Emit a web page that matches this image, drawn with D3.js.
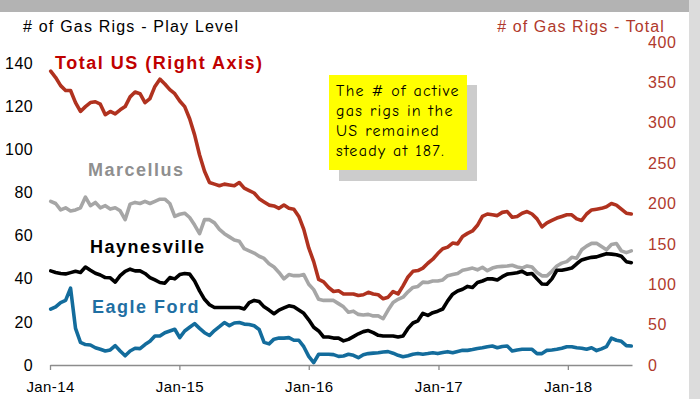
<!DOCTYPE html>
<html>
<head>
<meta charset="utf-8">
<script src="https://cdn.jsdelivr.net/npm/d3@7"></script>
<style>
  html, body { margin: 0; padding: 0; background: #ffffff; }
  svg { display: block; }
</style>
</head>
<body>
<svg id="chart" width="700" height="399"></svg>
<script>
// Weekly rig counts, sampled every two weeks starting with the first Friday of 2014
const firstSample = "2014-01-03";
const sampleStepDays = 14;

const totalUS = [
  364, 356, 346, 340, 340, 325, 314, 320, 325, 326,
  323, 310, 314, 311, 316, 320, 332, 338, 336, 325,
  330, 345, 354, 348, 341, 336, 327, 320, 305, 285,
  260, 240, 226, 224, 222, 224, 223, 222, 226, 219,
  216, 213, 206, 202, 198, 197, 194, 198, 194, 193,
  184, 168, 145, 128, 106, 103, 96, 91, 92, 88,
  88, 88, 86, 87, 90, 88, 87, 82, 84, 91,
  88, 98, 109, 116, 117, 120, 126, 131, 138, 144,
  146, 151, 150, 159, 163, 166, 173, 184, 187, 186,
  185, 189, 190, 183, 184, 188, 190, 187, 181, 171,
  176, 179, 182, 184, 186, 186, 181, 179, 187, 192,
  193, 194, 196, 200, 198, 193, 188, 187
];

const marcellus = [
  76, 75, 72, 73, 71.5, 72, 73, 78, 74, 75.5,
  73, 74, 72.4, 73, 71.6, 67.5, 74.7, 75.5, 75, 76,
  75, 76, 77, 77, 75, 69, 70, 70.5, 68.5, 65,
  61, 67.5, 67.5, 66, 63, 61, 59.5, 58, 57.5, 54,
  53, 52, 50.5, 49.5, 47, 45.5, 43, 40, 42, 41.5,
  41.5, 42, 37.5, 35, 30.5, 30, 30, 30, 28.5, 27,
  24.5, 25, 23.5, 23.2, 23.5, 22.8, 22.8, 21.5, 25.5, 29,
  30.5, 31.5, 34, 36, 36.5, 38.5, 38.3, 39, 39, 39.5,
  41.5, 42, 42.5, 44, 44.5, 45, 44.2, 45.4, 43.8, 45,
  45.6, 45.8, 46, 46.3, 45.5, 45, 46, 45.5, 43, 41.4,
  41.4, 43.5, 46, 47.3, 48, 50, 49.6, 53.5, 55.2, 56.5,
  56.5, 55, 53.5, 56, 56.4, 53, 52.2, 53
];

const haynesville = [
  43.7, 43, 42.5, 42.3, 42.9, 43.5, 43, 45.5, 44, 42.6,
  41.8, 40.6, 40.5, 38.5, 41.5, 43.5, 44.5, 43.7, 43.7, 42.5,
  40.6, 39.5, 38.3, 38, 40.6, 40, 42, 42.5, 42.2, 39,
  34.4, 30.5, 28, 26.7, 26.7, 26.7, 26.7, 26.7, 26.7, 26,
  29, 30, 29.5, 27, 25.5, 23.8, 25.5, 26.5, 27.5, 27,
  25.5, 24, 21, 17.5, 15.8, 13, 13, 12.5, 12.5, 11.2,
  11.9, 13.2, 14.5, 15.5, 16, 15, 13.8, 13.5, 13.5, 13.5,
  13, 13.5, 17, 19.5, 20.5, 24, 23, 24.3, 25, 26,
  29.8, 32.9, 34.4, 35.2, 36.5, 36, 38.3, 39, 40, 40,
  39.5, 41, 42.2, 42.5, 42.8, 43.5, 42.2, 42.5, 40, 37.6,
  37.5, 40, 44, 44, 44.5, 45, 47, 48.8, 49.5, 50,
  50.2, 51, 51.7, 51.5, 51.2, 50.5, 48, 47.5
];

const eagleFord = [
  25.9, 27, 29, 30, 35.7, 17, 10.5, 9.5, 9.3, 8,
  7.3, 6.5, 7, 9, 6.5, 4.3, 6.5, 7.8, 7.6, 9.5,
  11, 13.5, 13.5, 15, 15.8, 16.6, 12.7, 15.8, 17.5, 19.2,
  17, 15, 13.7, 16, 17.8, 19.7, 18.3, 19.5, 19.7, 19,
  18.8, 18.2, 16.5, 10.5, 9.8, 12, 12.5, 12.5, 12.7, 11.5,
  11.5, 8.5, 4, 1.1, 5, 5, 5, 4.8, 4, 4.2,
  5, 4.5, 3.4, 4.8, 5.3, 5.5, 5.7, 6, 6.2, 5.5,
  4.5, 3.8, 4.3, 5, 5.3, 5, 5.3, 5.7, 5.3, 5.8,
  6.2, 5.7, 6.3, 6.8, 6.8, 7.2, 7.7, 8, 8.5, 8.8,
  8, 8.6, 8.8, 6.5, 7, 7.3, 7.3, 7.3, 5.3, 5.3,
  6.8, 7, 7.3, 7.8, 8.5, 8.5, 8, 7.8, 7.3, 8,
  6.7, 7.5, 8.5, 12.5, 11.5, 11, 9, 8.8
];

const leftTicks = [0, 20, 40, 60, 80, 100, 120, 140];
const rightTicks = [0, 50, 100, 150, 200, 250, 300, 350, 400];
const xTickYears = ["2014", "2015", "2016", "2017", "2018"];

const leftTitle = "# of Gas Rigs - Play Level";
const rightTitle = "# of Gas Rigs - Total";
const noteLines = ["The # of active", "gas rigs in the", "US remained", "steady at 187."];

const svg = d3.select("#chart");
const W = 700, H = 399;
const sansFont = "Arial, 'Liberation Sans', sans-serif";

// frame: grey top band and light right edge
svg.append("rect").attr("x", 0).attr("y", 0).attr("width", W).attr("height", H).attr("fill", "#ffffff");
svg.append("rect").attr("x", 0).attr("y", 0).attr("width", 689).attr("height", 12).attr("fill", "#b3b3b3");
svg.append("rect").attr("x", 689).attr("y", 0).attr("width", 11).attr("height", H).attr("fill", "#dcdcdc");

const parse = d3.timeParse("%Y-%m-%d");
const start = parse(firstSample);
const dates = totalUS.map((_, i) => d3.timeDay.offset(start, i * sampleStepDays));

const x = d3.scaleTime()
  .domain([parse("2014-01-01"), parse("2018-07-01")])
  .range([50, 632]);
const yLeft = d3.scaleLinear().domain([0, 150]).range([365, 42]);
const yRight = d3.scaleLinear().domain([0, 400]).range([365, 42]);

// x axis
const xAxis = d3.axisBottom(x)
  .tickValues(xTickYears.map(y => parse(y + "-01-01")))
  .tickFormat(d3.timeFormat("Jan-%y"))
  .tickSize(5)
  .tickSizeOuter(0);
const gx = svg.append("g").attr("transform", "translate(0,365)").call(xAxis);
gx.select(".domain").attr("stroke", "#8c8c8c").attr("stroke-width", 1.3);
gx.selectAll(".tick line").attr("stroke", "#8c8c8c").attr("stroke-width", 1.3);
gx.selectAll(".tick text")
  .attr("y", 16)
  .attr("fill", "#000")
  .style("font-family", sansFont)
  .style("font-size", "15px")
  .style("letter-spacing", "0.4px");

// left axis (labels only)
const gl = svg.append("g").attr("transform", "translate(36,0)")
  .call(d3.axisLeft(yLeft).tickValues(leftTicks).tickSize(0).tickPadding(3));
gl.select(".domain").remove();
gl.selectAll(".tick text")
  .attr("fill", "#000")
  .style("font-family", sansFont)
  .style("font-size", "16px")
  .style("letter-spacing", "0.4px");

// right axis (labels only)
const gr = svg.append("g").attr("transform", "translate(645,0)")
  .call(d3.axisRight(yRight).tickValues(rightTicks).tickSize(0).tickPadding(3));
gr.select(".domain").remove();
gr.selectAll(".tick text")
  .attr("fill", "#b0392c")
  .style("font-family", sansFont)
  .style("font-size", "16px")
  .style("letter-spacing", "0.6px");

// axis titles
svg.append("text").attr("x", 23).attr("y", 32).text(leftTitle)
  .attr("fill", "#000").style("font-family", sansFont).style("font-size", "16px")
  .style("letter-spacing", "1.2px");
svg.append("text").attr("x", 665).attr("y", 32).attr("text-anchor", "end").text(rightTitle)
  .attr("fill", "#b0392c").style("font-family", sansFont).style("font-size", "16px")
  .style("letter-spacing", "1.1px");

// series lines
const leftLine = d3.line().x((d, i) => x(dates[i])).y(d => yLeft(d));
const rightLine = d3.line().x((d, i) => x(dates[i])).y(d => yRight(d));

const series = [
  { values: marcellus, gen: leftLine, color: "#a6a6a6" },
  { values: haynesville, gen: leftLine, color: "#000000" },
  { values: eagleFord, gen: leftLine, color: "#136c9c" },
  { values: totalUS, gen: rightLine, color: "#b0321f" }
];
series.forEach(s => {
  svg.append("path")
    .datum(s.values)
    .attr("d", s.gen)
    .attr("fill", "none")
    .attr("stroke", s.color)
    .attr("stroke-width", 3.6)
    .attr("stroke-linejoin", "round")
    .attr("stroke-linecap", "round");
});

// series labels
const labels = [
  { text: "Total US (Right Axis)", x: 55, y: 69, color: "#c00000" },
  { text: "Marcellus", x: 88, y: 176, color: "#8f8f8f" },
  { text: "Haynesville", x: 90, y: 253, color: "#000000" },
  { text: "Eagle Ford", x: 92, y: 313, color: "#1f6fa3" }
];
labels.forEach(l => {
  svg.append("text").attr("x", l.x).attr("y", l.y).text(l.text)
    .attr("fill", l.color)
    .style("font-family", sansFont)
    .style("font-size", "18px")
    .style("font-weight", "bold")
    .style("letter-spacing", "1.5px");
});

// callout box with drop shadow
svg.append("rect").attr("x", 339).attr("y", 85).attr("width", 138).attr("height", 96).attr("fill", "#cccccc");
svg.append("rect").attr("x", 329).attr("y", 75).attr("width", 138).attr("height", 95).attr("fill", "#ffff00");
const note = svg.append("text")
  .attr("fill", "#000")
  .style("font-family", "'Comic Sans MS', 'Comic Neue', 'DejaVu Sans', sans-serif")
  .style("font-size", "16px")
  .style("letter-spacing", "1.3px");
noteLines.forEach((t, i) => {
  note.append("tspan").attr("x", 336).attr("y", 96 + i * 20).text(t);
});
</script>
</body>
</html>
